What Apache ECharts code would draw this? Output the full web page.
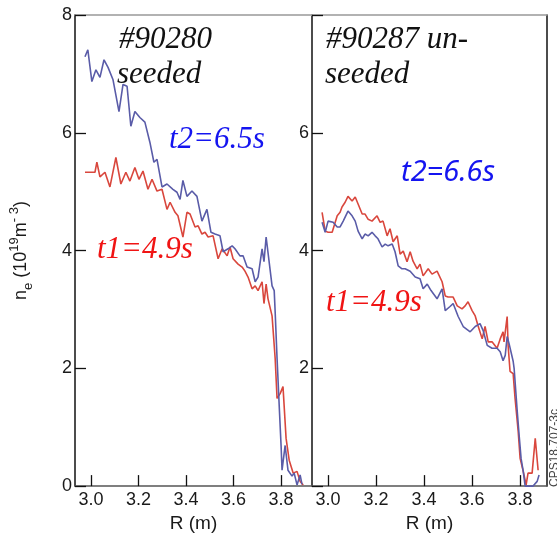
<!DOCTYPE html>
<html>
<head>
<meta charset="utf-8">
<script src="https://cdn.jsdelivr.net/npm/echarts@6/dist/echarts.min.js"></script>
<style>html,body{margin:0;padding:0;background:#fff;}#c{width:557px;height:538px;}</style>
</head>
<body>
<div id="c"></div>
<script>
// ---- Data ----
var xTicks = [3.0, 3.2, 3.4, 3.6, 3.8];
var yTicksLeft = [0, 2, 4, 6, 8];
var yTicksRight = [2, 4, 6];

// #90280 seeded, t1 = 4.9 s (red)
var seededT1R  = [2.975,3.017,3.025,3.038,3.059,3.080,3.105,3.126,3.147,3.164,3.185,3.202,3.219,3.240,3.257,3.278,3.299,3.320,3.333,3.354,3.366,3.387,3.404,3.417,3.438,3.451,3.467,3.480,3.493,3.514,3.535,3.552,3.573,3.585,3.598,3.619,3.636,3.648,3.661,3.678,3.691,3.703,3.720,3.728,3.737,3.745,3.762,3.775,3.783,3.796,3.808,3.821,3.834,3.851,3.867,3.880,3.893];
var seededT1Ne = [5.33,5.33,5.50,5.25,5.33,5.08,5.58,5.13,5.33,5.18,5.41,5.21,5.35,5.04,5.21,5.01,5.04,4.70,4.82,4.65,4.59,4.23,4.65,4.62,4.40,4.42,4.28,4.31,4.23,4.25,3.86,4.03,3.91,4.06,3.86,3.77,3.72,3.65,3.55,3.35,3.40,3.32,3.47,3.10,3.43,3.18,2.89,2.17,1.49,1.57,1.69,0.81,0.44,0.22,0.25,0.08,0.02];

// #90280 seeded, t2 = 6.5 s (blue)
var seededT2R  = [2.975,2.987,3.004,3.021,3.038,3.055,3.072,3.093,3.118,3.135,3.152,3.168,3.185,3.206,3.227,3.248,3.265,3.278,3.299,3.320,3.345,3.362,3.375,3.387,3.404,3.425,3.446,3.467,3.488,3.505,3.522,3.543,3.556,3.577,3.594,3.606,3.627,3.640,3.657,3.678,3.691,3.703,3.720,3.728,3.737,3.745,3.762,3.771,3.775,3.783,3.792,3.800,3.804,3.817,3.829,3.846,3.855,3.867,3.880,3.888];
var seededT2Ne = [7.29,7.41,6.87,7.07,6.94,7.24,7.11,6.90,6.36,6.82,6.79,6.11,6.36,6.26,6.18,5.84,5.50,5.55,5.08,5.13,5.04,4.99,4.87,5.19,4.92,5.01,4.92,4.50,4.70,4.31,4.28,4.25,3.98,4.03,4.08,4.03,3.91,3.91,3.72,3.69,3.47,3.55,4.03,3.81,4.23,4.20,3.40,3.32,2.96,2.17,1.37,0.68,0.27,0.69,0.27,0.17,0.22,0.02,0.19,0.03];

// #90287 un-seeded, t1 = 4.9 s (red)
var unseededT1R  = [2.975,2.988,3.000,3.017,3.038,3.050,3.058,3.071,3.083,3.100,3.113,3.125,3.142,3.154,3.167,3.183,3.204,3.217,3.229,3.246,3.258,3.271,3.288,3.300,3.313,3.329,3.342,3.354,3.371,3.383,3.396,3.417,3.433,3.454,3.475,3.488,3.500,3.521,3.538,3.558,3.571,3.583,3.600,3.613,3.625,3.642,3.654,3.667,3.683,3.704,3.717,3.729,3.733,3.746,3.750,3.758,3.771,3.779,3.792,3.800,3.813,3.825,3.833,3.850,3.863,3.875];
var unseededT1Ne = [4.65,4.33,4.31,4.31,4.59,4.65,4.74,4.82,4.92,4.84,4.91,4.79,4.62,4.62,4.53,4.50,4.59,4.48,4.50,4.25,4.37,4.15,4.25,3.94,3.99,3.81,3.98,3.82,3.69,3.77,3.57,3.69,3.60,3.65,3.47,3.23,3.21,3.21,3.06,3.01,3.06,3.13,2.98,2.89,2.72,2.50,2.71,2.45,2.45,2.34,2.50,2.62,2.45,2.88,2.39,1.95,1.91,1.49,0.93,0.47,0.25,0.02,0.22,0.22,0.81,0.27];

// #90287 un-seeded, t2 = 6.6 s (blue)
var unseededT2R  = [2.975,2.988,3.000,3.021,3.038,3.050,3.063,3.083,3.100,3.113,3.125,3.142,3.154,3.167,3.183,3.196,3.208,3.225,3.238,3.250,3.267,3.279,3.292,3.308,3.321,3.342,3.363,3.383,3.396,3.413,3.429,3.454,3.475,3.488,3.508,3.521,3.542,3.563,3.592,3.613,3.633,3.646,3.663,3.683,3.704,3.717,3.729,3.738,3.746,3.754,3.771,3.775,3.788,3.796,3.804,3.813,3.821,3.833,3.854,3.871,3.879];
var unseededT2Ne = [4.48,4.31,4.50,4.48,4.40,4.40,4.50,4.67,4.59,4.50,4.33,4.20,4.28,4.25,4.31,4.25,4.20,4.06,4.11,4.08,4.11,3.98,3.74,3.69,3.69,3.65,3.55,3.52,3.35,3.43,3.32,3.18,3.35,2.98,3.05,3.10,2.88,2.71,2.62,2.71,2.76,2.64,2.39,2.34,2.34,2.28,2.13,2.22,2.54,2.42,2.12,2.00,1.27,0.86,0.47,0.25,0.00,0.00,0.00,0.08,0.19];

function zip(a, b) { return a.map(function (v, i) { return [v, b[i]]; }); }

var RED = '#d9473d', BLUE = '#5a5ca8';
var SANS = '"Liberation Sans", Arial, sans-serif';
var SERIF = '"Liberation Serif", "Times New Roman", serif';

function bottomX(gi, max) {
  return {
    type: 'value', gridIndex: gi, position: 'bottom', min: 2.933, max: max,
    axisLine: { show: true, onZero: false, lineStyle: { color: '#555', width: 1.6 } },
    axisTick: { show: true, inside: true, length: 11, customValues: xTicks, lineStyle: { color: '#111', width: 1.3 } },
    axisLabel: { show: true, customValues: xTicks, margin: 5, fontFamily: SANS, fontSize: 18, color: '#1a1a1a',
      formatter: function (v) { return v.toFixed(1); } },
    splitLine: { show: false },
    name: 'R (m)', nameLocation: 'middle', nameGap: 15,
    nameTextStyle: { fontFamily: SANS, fontSize: 19, color: '#1a1a1a' }
  };
}
function topX(gi) {
  return { type: 'value', gridIndex: gi, position: 'top', min: 0, max: 1,
    axisLine: { show: true, onZero: false, lineStyle: { color: '#999', width: 1.5 } },
    axisTick: { show: false }, axisLabel: { show: false }, splitLine: { show: false } };
}

var option = {
  animation: false,
  backgroundColor: '#fff',
  grid: [
    { left: 75, top: 15, width: 237, height: 473 },
    { left: 312, top: 15, width: 235, height: 473 }
  ],
  xAxis: [bottomX(0, 3.93), bottomX(1, 3.912), topX(0), topX(1)],
  yAxis: [
    { type: 'value', gridIndex: 0, min: 0, max: 8, interval: 2, position: 'left',
      axisLine: { show: true, onZero: false, lineStyle: { color: '#111', width: 1.5 } },
      axisTick: { show: true, inside: true, length: 11, lineStyle: { color: '#111', width: 1.3 } },
      axisLabel: { show: true, margin: 3, fontFamily: SANS, fontSize: 18, color: '#1a1a1a', showMinLabel: true, showMaxLabel: true,
        formatter: function (v) { return yTicksLeft.indexOf(v) >= 0 ? String(v) : ''; } },
      splitLine: { show: false },
      name: '{a|n}{sub|e}{a| (10}{sup|19}{a|m}{sup|- 3}{a|)}', nameLocation: 'middle', nameGap: 40, nameRotate: 90,
      nameTextStyle: { fontFamily: SANS, fontSize: 18, color: '#1a1a1a',
        rich: {
          a: { fontFamily: SANS, fontSize: 18, color: '#1a1a1a', lineHeight: 27, verticalAlign: 'middle' },
          sub: { fontFamily: SANS, fontSize: 13, color: '#1a1a1a', lineHeight: 27, verticalAlign: 'bottom' },
          sup: { fontFamily: SANS, fontSize: 13, color: '#1a1a1a', lineHeight: 27, verticalAlign: 'top' }
        } } },
    { type: 'value', gridIndex: 1, min: 0, max: 8, interval: 2, position: 'left',
      axisLine: { show: true, onZero: false, lineStyle: { color: '#111', width: 1.5 } },
      axisTick: { show: true, inside: true, length: 11, lineStyle: { color: '#111', width: 1.3 } },
      axisLabel: { show: true, margin: 3, fontFamily: SANS, fontSize: 18, color: '#1a1a1a',
        formatter: function (v) { return yTicksRight.indexOf(v) >= 0 ? String(v) : ''; } },
      splitLine: { show: false } },
    { type: 'value', gridIndex: 1, min: 0, max: 8, position: 'right',
      axisLine: { show: true, onZero: false, lineStyle: { color: '#111', width: 1.5 } },
      axisTick: { show: false }, axisLabel: { show: false }, splitLine: { show: false } }
  ],
  series: [
    { type: 'line', xAxisIndex: 0, yAxisIndex: 0, data: zip(seededT1R, seededT1Ne), showSymbol: false, lineStyle: { color: RED, width: 1.6 }, z: 2 },
    { type: 'line', xAxisIndex: 0, yAxisIndex: 0, data: zip(seededT2R, seededT2Ne), showSymbol: false, lineStyle: { color: BLUE, width: 1.6 }, z: 3 },
    { type: 'line', xAxisIndex: 1, yAxisIndex: 1, data: zip(unseededT1R, unseededT1Ne), showSymbol: false, lineStyle: { color: RED, width: 1.6 }, z: 2 },
    { type: 'line', xAxisIndex: 1, yAxisIndex: 1, data: zip(unseededT2R, unseededT2Ne), showSymbol: false, lineStyle: { color: BLUE, width: 1.6 }, z: 3 }
  ],
  graphic: [
    { type: 'text', x: 119, y: 39.5, style: { text: '#90280', font: 'italic 31px ' + SERIF, fill: '#111', verticalAlign: 'middle' } },
    { type: 'text', x: 117, y: 74.5, style: { text: 'seeded', font: 'italic 31px ' + SERIF, fill: '#111', verticalAlign: 'middle' } },
    { type: 'text', x: 169, y: 139.5, style: { text: 't2=6.5s', font: 'italic 31px ' + SERIF, fill: '#1414f0', verticalAlign: 'middle' } },
    { type: 'text', x: 97, y: 249.5, style: { text: 't1=4.9s', font: 'italic 31px ' + SERIF, fill: '#f01414', verticalAlign: 'middle' } },
    { type: 'text', x: 326, y: 39.5, style: { text: '#90287 un-', font: 'italic 31px ' + SERIF, fill: '#111', verticalAlign: 'middle' } },
    { type: 'text', x: 325, y: 75, style: { text: 'seeded', font: 'italic 31px ' + SERIF, fill: '#111', verticalAlign: 'middle' } },
    { type: 'text', x: 401, y: 172.5, style: { text: 't2=6.6s', font: 'italic 29px "Noto Sans", "Open Sans", sans-serif', fill: '#1414f0', verticalAlign: 'middle' } },
    { type: 'text', x: 326, y: 302.5, style: { text: 't1=4.9s', font: 'italic 31px ' + SERIF, fill: '#f01414', verticalAlign: 'middle' } },
    { type: 'text', x: 555, y: 448, rotation: Math.PI / 2, style: { text: 'CPS18.707-3c', font: '12px ' + SANS, fill: '#444', align: 'center', verticalAlign: 'middle' } }
  ]
};

var chart = echarts.init(document.getElementById('c'), null, { renderer: 'canvas' });
chart.setOption(option);
</script>
</body>
</html>
